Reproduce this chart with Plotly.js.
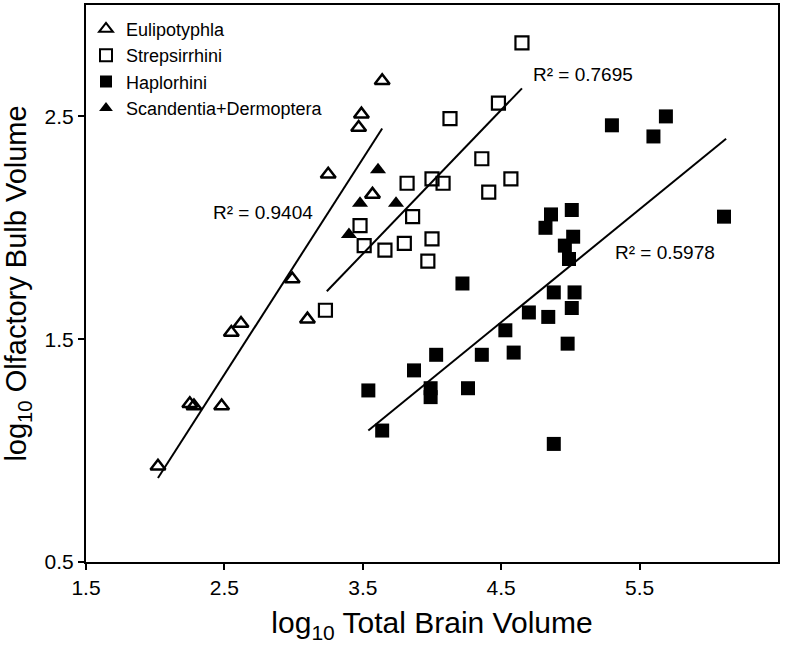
<!DOCTYPE html>
<html>
<head>
<meta charset="utf-8">
<script src="https://cdn.plot.ly/plotly-3.0.1.min.js"></script>
<style>
  html, body { margin: 0; padding: 0; background: #fff; }
  #chart { width: 788px; height: 649px; }
</style>
</head>
<body>
<div id="chart"></div>
<script>
// log10 total brain volume (x) vs log10 olfactory bulb volume (y)
const euliX = [2.02, 2.25, 2.28, 2.48, 2.55, 2.62, 2.99, 3.10, 3.25, 3.57, 3.64, 3.49, 3.47];
const euliY = [0.93, 1.21, 1.20, 1.20, 1.53, 1.57, 1.77, 1.59, 2.24, 2.15, 2.66, 2.51, 2.45];

const strepX = [4.65, 4.48, 4.13, 4.36, 4.57, 4.41, 3.82, 4.00, 4.08, 3.86, 3.48, 3.51, 3.66, 3.80, 4.00, 3.97, 3.23];
const strepY = [2.83, 2.56, 2.49, 2.31, 2.22, 2.16, 2.20, 2.22, 2.20, 2.05, 2.01, 1.92, 1.90, 1.93, 1.95, 1.85, 1.63];

const haploX = [5.30, 5.69, 5.60, 6.11, 4.86, 5.01, 4.82, 5.02, 4.96, 4.99, 4.22, 4.88, 5.03, 5.01,
                4.70, 4.84, 4.53, 4.98, 4.03, 4.36, 4.59, 3.87, 3.54, 3.99, 3.99, 4.26, 3.64, 4.88];
const haploY = [2.46, 2.50, 2.41, 2.05, 2.06, 2.08, 2.00, 1.96, 1.92, 1.86, 1.75, 1.71, 1.71, 1.64,
                1.62, 1.60, 1.54, 1.48, 1.43, 1.43, 1.44, 1.36, 1.27, 1.28, 1.24, 1.28, 1.09, 1.03];

const scandX = [3.61, 3.48, 3.74, 3.40];
const scandY = [2.26, 2.11, 2.11, 1.97];

// regression lines (end points)
const euliFitX = [2.02, 3.64];
const euliFitY = [0.877, 2.446];
const strepFitX = [3.24, 4.65];
const strepFitY = [1.715, 2.626];
const haploFitX = [3.54, 6.125];
const haploFitY = [1.09, 2.40];

const r2Text = ['R² = 0.9404', 'R² = 0.7695', 'R² = 0.5978'];
const r2X = [2.78, 5.09, 5.68];
const r2Y = [2.07, 2.69, 1.89];

const xTicks = [1.5, 2.5, 3.5, 4.5, 5.5];
const yTicks = [0.5, 1.5, 2.5];

const LABEL_FONT = 'Liberation Sans, Arial, sans-serif';

function points(name, x, y, symbol, size, lw) {
  return {
    type: 'scatter',
    mode: 'markers',
    name: name,
    x: x,
    y: y,
    marker: {
      symbol: symbol,
      size: size,
      color: '#000',
      line: { color: '#000', width: lw },
    },
  };
}

function fitLine(x, y) {
  return {
    type: 'scatter',
    mode: 'lines',
    x: x,
    y: y,
    showlegend: false,
    hoverinfo: 'skip',
    line: { color: '#000', width: 2 },
  };
}

const data = [
  fitLine(euliFitX, euliFitY),
  fitLine(strepFitX, strepFitY),
  fitLine(haploFitX, haploFitY),
  points('Eulipotyphla', euliX, euliY, 'triangle-up-open', 13, 2.5),
  points('Strepsirrhini', strepX, strepY, 'square-open', 13, 2.2),
  points('Haplorhini', haploX, haploY, 'square', 14, 0),
  points('Scandentia+Dermoptera', scandX, scandY, 'triangle-up', 14, 0),
];

const axisCommon = {
  showgrid: false,
  zeroline: false,
  showline: true,
  mirror: true,
  linecolor: '#000',
  linewidth: 2,
  ticks: 'outside',
  ticklen: 6,
  tickwidth: 2,
  tickcolor: '#000',
  tickfont: { family: LABEL_FONT, size: 21, color: '#000' },
};

const layout = {
  width: 788,
  height: 649,
  paper_bgcolor: '#fff',
  plot_bgcolor: '#fff',
  margin: { l: 86, r: 10, t: 5, b: 87 },
  showlegend: true,
  legend: {
    x: 0,
    xanchor: 'left',
    y: 0.99,
    yanchor: 'top',
    bgcolor: 'rgba(0,0,0,0)',
    font: { family: LABEL_FONT, size: 18, color: '#000' },
    itemsizing: 'constant',
  },
  xaxis: Object.assign({}, axisCommon, {
    range: [1.5, 6.5],
    tickvals: xTicks,
    ticktext: xTicks.map(v => v.toFixed(1)),
    title: {
      text: 'log<sub>10</sub> Total Brain Volume',
      font: { family: LABEL_FONT, size: 30, color: '#000' },
      standoff: 14,
    },
  }),
  yaxis: Object.assign({}, axisCommon, {
    range: [0.5, 3.0],
    tickvals: yTicks,
    ticktext: yTicks.map(v => v.toFixed(1)),
    title: {
      text: 'log<sub>10</sub> Olfactory Bulb Volume',
      font: { family: LABEL_FONT, size: 29, color: '#000' },
      standoff: 10,
    },
  }),
  annotations: r2Text.map((t, i) => ({
    text: t,
    x: r2X[i],
    y: r2Y[i],
    xref: 'x',
    yref: 'y',
    showarrow: false,
    font: { family: LABEL_FONT, size: 19, color: '#000' },
  })),
};

Plotly.newPlot('chart', data, layout, { displayModeBar: false, staticPlot: true });
</script>
</body>
</html>
